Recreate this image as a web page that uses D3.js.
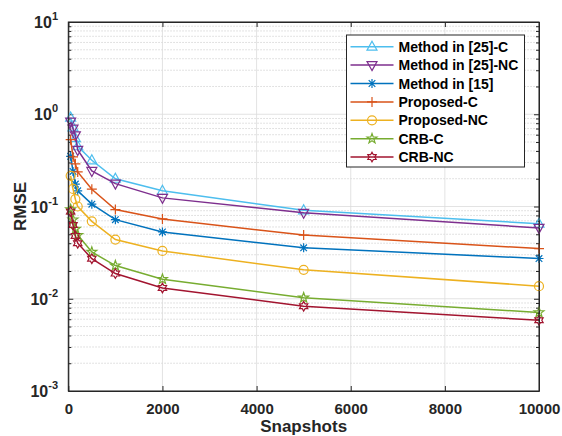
<!DOCTYPE html>
<html><head><meta charset="utf-8">
<script src="https://cdn.jsdelivr.net/npm/d3@7"></script>
<style>
html,body{margin:0;padding:0;background:#fff;}
svg{display:block;font-family:"Liberation Sans",Arial,sans-serif;}
</style></head>
<body><svg id="c" width="562" height="436"></svg>
<script>
const snapshots = [50, 100, 150, 200, 500, 1000, 2000, 5000, 10000];
const method25C  = [0.92, 0.72, 0.55, 0.45, 0.317, 0.200, 0.148, 0.091, 0.065];
const method25NC = [0.83, 0.70, 0.59, 0.41, 0.243, 0.177, 0.124, 0.0855, 0.0586];
const method15   = [0.35, 0.24, 0.175, 0.148, 0.106, 0.072, 0.053, 0.0357, 0.0273];
const proposedC  = [0.53, 0.345, 0.29, 0.237, 0.154, 0.0926, 0.0733, 0.049, 0.035];
const proposedNC = [0.215, 0.155, 0.12, 0.10, 0.069, 0.0438, 0.033, 0.0206, 0.0137];
const crbC       = [0.093, 0.072, 0.057, 0.049, 0.0321, 0.0229, 0.0163, 0.01025, 0.0071];
const crbNC      = [0.088, 0.063, 0.048, 0.040, 0.0272, 0.01875, 0.0131, 0.0083, 0.00585];
const seriesNames = ["Method in [25]-C","Method in [25]-NC","Method in [15]","Proposed-C","Proposed-NC","CRB-C","CRB-NC"];
const xTicks = [0, 2000, 4000, 6000, 8000, 10000];
const yExponents = [-3, -2, -1, 0, 1];

const seriesValues = [method25C, method25NC, method15, proposedC, proposedNC, crbC, crbNC];
const colors = ["#4DBEEE","#7E2F8E","#0072BD","#D95319","#EDB120","#77AC30","#A2142F"];
const markers = ["triUp","triDown","asterisk","plus","circle","pentagram","hexagram"];

const svg = d3.select("#c");
const L = 68.3, R = 539, T = 22, B = 391;
const x = d3.scaleLinear().domain([0, 10000]).range([L, R]);
const y = d3.scaleLog().domain([1e-3, 10]).range([B, T]);
const axisColor = "#262626";

function starPath(n, ro, ri, rot) {
  const pts = [];
  for (let i = 0; i < 2 * n; i++) {
    const r = i % 2 === 0 ? ro : ri;
    const a = rot + i * Math.PI / n;
    pts.push([r * Math.cos(a), r * Math.sin(a)]);
  }
  return "M" + pts.map(p => p[0].toFixed(2) + "," + p[1].toFixed(2)).join("L") + "Z";
}
function markerPath(t) {
  switch (t) {
    case "triUp": return "M0,-5.5L5,3.5L-5,3.5Z";
    case "triDown": return "M0,5.5L5,-3.5L-5,-3.5Z";
    case "asterisk": return "M0,-4.5V4.5M-4.5,0H4.5M-3.3,-3.3L3.3,3.3M-3.3,3.3L3.3,-3.3";
    case "plus": return "M0,-5V5M-5,0H5";
    case "circle": return "M4.5,0A4.5,4.5 0 1,1 -4.5,0A4.5,4.5 0 1,1 4.5,0Z";
    case "pentagram": return starPath(5, 5.2, 2.1, -Math.PI / 2);
    case "hexagram": return starPath(6, 4.8, 2.8, -Math.PI / 2);
  }
}

// grid
const g = svg.append("g");
const minorVals = [];
for (let e = -3; e < 1; e++) for (let k = 2; k <= 9; k++) minorVals.push(k * Math.pow(10, e));
g.selectAll(".minor").data(minorVals).enter().append("line")
  .attr("x1", L).attr("x2", R).attr("y1", d => y(d)).attr("y2", d => y(d))
  .attr("stroke", "#cfcfcf").attr("stroke-width", 0.8).attr("stroke-dasharray", "1.5,1.5");
g.selectAll(".majy").data(yExponents.map(e => Math.pow(10, e))).enter().append("line")
  .attr("x1", L).attr("x2", R).attr("y1", d => y(d)).attr("y2", d => y(d))
  .attr("stroke", "#dcdcdc").attr("stroke-width", 0.8);
g.selectAll(".majx").data(xTicks).enter().append("line")
  .attr("x1", d => x(d)).attr("x2", d => x(d)).attr("y1", T).attr("y2", B)
  .attr("stroke", "#dcdcdc").attr("stroke-width", 0.8);

// axes
const xAxisB = d3.axisBottom(x).tickValues(xTicks).tickSizeInner(-5).tickSizeOuter(0).tickPadding(12).tickFormat(d3.format("d"));
const xAxisT = d3.axisTop(x).tickValues(xTicks).tickSizeInner(-5).tickSizeOuter(0).tickFormat("");
const yAxisL = d3.axisLeft(y).tickValues(yExponents.map(e => Math.pow(10, e))).tickSizeInner(-5).tickSizeOuter(0).tickFormat("");
const yAxisR = d3.axisRight(y).tickValues(yExponents.map(e => Math.pow(10, e))).tickSizeInner(-5).tickSizeOuter(0).tickFormat("");
const yMinL = d3.axisLeft(y).tickValues(minorVals).tickSizeInner(-3).tickSizeOuter(0).tickFormat("");
const yMinR = d3.axisRight(y).tickValues(minorVals).tickSizeInner(-3).tickSizeOuter(0).tickFormat("");

function styleAxis(sel) {
  sel.selectAll("path,line").attr("stroke", axisColor);
  sel.selectAll("text").attr("fill", axisColor).attr("font-size", 15).attr("font-weight", "bold")
    .attr("font-family", "'Liberation Sans',Arial,sans-serif");
}
svg.append("g").attr("transform", `translate(0,${B})`).call(xAxisB).call(styleAxis);
svg.append("g").attr("transform", `translate(0,${T})`).call(xAxisT).call(styleAxis);
svg.append("g").attr("transform", `translate(${L},0)`).call(yAxisL).call(styleAxis);
svg.append("g").attr("transform", `translate(${R},0)`).call(yAxisR).call(styleAxis);
svg.append("g").attr("transform", `translate(${L},0)`).call(yMinL).call(styleAxis).select(".domain").remove();
svg.append("g").attr("transform", `translate(${R},0)`).call(yMinR).call(styleAxis).select(".domain").remove();

// y tick labels 10^e
const yl = svg.append("g");
yExponents.forEach(e => {
  const t = yl.append("text").attr("x", 58).attr("y", y(Math.pow(10, e)) + 6)
    .attr("text-anchor", "end").attr("font-size", 16).attr("font-weight", "bold").attr("fill", axisColor);
  t.append("tspan").text("10");
  t.append("tspan").attr("dy", -8).attr("font-size", 11).text(String(e));
});

// axis labels
svg.append("text").attr("x", (L + R) / 2).attr("y", 432).attr("text-anchor", "middle")
  .attr("font-size", 17).attr("font-weight", "bold").attr("fill", axisColor).text("Snapshots");
svg.append("text").attr("transform", `translate(26,${(T + B) / 2}) rotate(-90)`).attr("text-anchor", "middle")
  .attr("font-size", 17).attr("font-weight", "bold").attr("fill", axisColor).text("RMSE");

// series
const line = d3.line().x(d => x(d[0])).y(d => y(d[1]));
seriesValues.forEach((vals, i) => {
  const pts = snapshots.map((s, j) => [s, vals[j]]);
  svg.append("path").datum(pts).attr("d", line).attr("fill", "none")
    .attr("stroke", colors[i]).attr("stroke-width", 1.5);
  svg.append("g").selectAll("path").data(pts).enter().append("path")
    .attr("transform", d => `translate(${x(d[0])},${y(d[1])})`)
    .attr("d", markerPath(markers[i])).attr("fill", "none")
    .attr("stroke", colors[i]).attr("stroke-width", 1.2);
});

// box edges on top
svg.append("rect").attr("x", L).attr("y", T).attr("width", R - L).attr("height", B - T)
  .attr("fill", "none").attr("stroke", axisColor).attr("stroke-width", 1);

// legend
const lg = svg.append("g");
const lx = 346.5, ly = 35, lw = 178, lh = 132;
lg.append("rect").attr("x", lx).attr("y", ly).attr("width", lw).attr("height", lh)
  .attr("fill", "#fff").attr("stroke", axisColor).attr("stroke-width", 1);
seriesNames.forEach((name, i) => {
  const cy = 46.7 + i * 18.4;
  lg.append("line").attr("x1", 350.5).attr("x2", 393.5).attr("y1", cy).attr("y2", cy)
    .attr("stroke", colors[i]).attr("stroke-width", 1.5);
  lg.append("path").attr("transform", `translate(372,${cy})`).attr("d", markerPath(markers[i]))
    .attr("fill", "none").attr("stroke", colors[i]).attr("stroke-width", 1.2);
  lg.append("text").attr("x", 398.5).attr("y", cy + 5).attr("font-size", 14).attr("font-weight", "bold")
    .attr("fill", "#000").text(name);
});
</script></body></html>
